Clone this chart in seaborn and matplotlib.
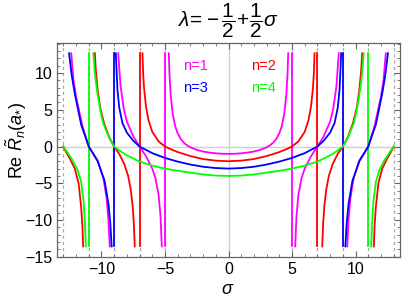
import matplotlib
matplotlib.use("Agg")
import matplotlib.pyplot as plt
import seaborn as sns
import pandas as pd
from matplotlib.ticker import MultipleLocator

# ---- data (right half, sigma >= 0; curves are even in sigma) ----
ns = [1, 2, 3, 4]
colors = {1: "#ff00ff", 2: "#ff0000", 3: "#0000ff", 4: "#00ff00"}
legend_labels = ["n=1", "n=2", "n=3", "n=4"]
poles = [5, 7, 9, 11]           # pole where each curve's central branch ends (joined vertically)
grid_sigma = [5, 7, 9, 11, 13]  # dashed grid lines (mirrored)

mag_center_s = [0, 0.5, 1, 1.5, 2, 2.5, 3, 3.25, 3.5, 3.75, 4, 4.2, 4.4, 4.55, 4.65, 4.7]
mag_center_v = [-1.0, -0.98, -0.92, -0.82, -0.68, -0.45, -0.1, 0.15, 0.5, 1.0, 1.8, 2.8, 4.6, 7.0, 10.0, 12.7]
mag_b_s = [5.25, 5.35, 5.5, 5.75, 6.0, 6.5, 7.0, 7.5, 8.0, 8.25, 8.5, 8.68]
mag_b_v = [-13.6, -9.5, -6.6, -4.3, -3.0, -1.3, 0.0, 1.4, 3.4, 5.2, 8.3, 12.7]
mag_c_s = [9.35, 9.45, 9.6, 9.85, 10.3, 11.0, 11.5, 12.0, 12.2, 12.38]
mag_c_v = [-13.6, -10.0, -7.0, -4.3, -1.9, 0.0, 2.8, 6.8, 9.0, 12.7]

red_center_s = [0, 1, 2, 3, 4, 4.5, 5, 5.5, 6.0, 6.3, 6.5, 6.65, 6.72, 6.77]
red_center_v = [-2.0, -1.92, -1.7, -1.3, -0.75, -0.4, 0.0, 0.7, 2.0, 3.6, 5.5, 8.0, 10.0, 12.7]
red_b_s = [7.38, 7.45, 7.55, 7.7, 7.9, 8.2, 8.6, 9.0, 9.4, 9.8, 10.1, 10.3, 10.45, 10.52]
red_b_v = [-13.6, -10.5, -8.0, -5.8, -4.0, -2.4, -1.0, 0.0, 1.3, 3.2, 5.3, 7.7, 10.5, 12.7]
red_c_s = [11.44, 11.5, 11.6, 11.8, 12.1, 12.5, 12.8, 13.0]
red_c_v = [-13.6, -10.8, -8.2, -5.0, -3.0, -1.6, -0.7, 0.0]

blue_center_s = [0, 1, 2, 3, 4, 5, 6, 7, 7.5, 8, 8.35, 8.6, 8.74, 8.87]
blue_center_v = [-3.0, -2.93, -2.75, -2.45, -2.05, -1.55, -0.9, 0.0, 0.8, 1.9, 3.2, 5.3, 7.7, 12.7]
blue_c_s = [9.2, 9.3, 9.45, 9.75, 10.3, 11.0, 11.6, 12.1, 12.35, 12.55]
blue_c_v = [-13.6, -10.5, -7.8, -4.7, -2.0, 0.0, 3.0, 7.2, 9.8, 12.7]

green_center_s = [0, 1, 2, 3, 4, 5, 6, 7, 8, 8.5, 9, 9.4, 9.87, 10.1, 10.36, 10.52, 10.64]
green_center_v = [-4.0, -3.95, -3.8, -3.55, -3.3, -3.0, -2.6, -2.05, -1.2, -0.65, 0.0, 1.2, 3.2, 5.0, 7.7, 10.0, 12.7]
green_c_s = [11.23, 11.3, 11.4, 11.6, 11.9, 12.3, 12.7, 13.0]
green_c_v = [-13.6, -10.5, -7.6, -4.8, -3.1, -1.8, -0.75, 0.0]

y_clip_low, y_clip_high = -13.6, 12.7

xticks = [-10, -5, 0, 5, 10]
yticks = [-15, -10, -5, 0, 5, 10]

# ---- build long table ----
branches = {
    1: [(mag_center_s, mag_center_v, True), (mag_b_s, mag_b_v, False), (mag_c_s, mag_c_v, False)],
    2: [(red_center_s, red_center_v, True), (red_b_s, red_b_v, False), (red_c_s, red_c_v, False)],
    3: [(blue_center_s, blue_center_v, True), (blue_c_s, blue_c_v, False)],
    4: [(green_center_s, green_center_v, True), (green_c_s, green_c_v, False)],
}
rows = []
for n, blist in branches.items():
    for k, (s, v, center) in enumerate(blist):
        if center:
            ss = [-x for x in reversed(s[1:])] + list(s)
            vv = list(reversed(v[1:])) + list(v)
            for a, b in zip(ss, vv):
                rows.append((a, b, n, f"{n}_{k}"))
        else:
            for a, b in zip(s, v):
                rows.append((a, b, n, f"{n}_{k}R"))
            for a, b in zip(s, v):
                rows.append((-a, b, n, f"{n}_{k}L"))
df = pd.DataFrame(rows, columns=["sigma", "value", "n", "branch"])

# ---- figure ----
plt.rcParams["font.family"] = ["Liberation Sans", "DejaVu Sans"]
plt.rcParams["mathtext.fontset"] = "custom"
plt.rcParams["mathtext.rm"] = "Liberation Sans"
plt.rcParams["mathtext.it"] = "Liberation Sans:italic"

fig = plt.figure(figsize=(4.05, 3.02), dpi=100)
ax = fig.add_axes([57 / 405, 1 - 256.7 / 302, (400 - 57) / 405, (256.7 - 43) / 302])

# grid
for g in grid_sigma:
    for sgn in (-1, 1):
        ax.axvline(sgn * g, color="#a8a8a8", lw=0.9, ls=(0, (2.5, 2.5)), zorder=0)
ax.axvline(0, color="#d0d0d0", lw=1.0, zorder=0)
ax.axhline(0, color="#d0d0d0", lw=1.0, zorder=0)

# vertical joins at the poles of the central branches
for n, p in zip(ns, poles):
    for sgn in (-1, 1):
        ax.plot([sgn * p, sgn * p], [y_clip_low, y_clip_high], color=colors[n], lw=1.3, zorder=2)

sns.lineplot(data=df, x="sigma", y="value", hue="n", units="branch", estimator=None,
             sort=False, palette=colors, legend=False, lw=1.3, ax=ax, zorder=3)

ax.set_xlim(-13.5, 13.5)
ax.set_ylim(-15, 14.1)
ax.set_xticks(xticks)
ax.set_yticks(yticks)
ax.set_xticklabels([f"{t}".replace("-", "\u2212") for t in xticks])
ax.set_yticklabels([f"{t}".replace("-", "\u2212") for t in yticks])
ax.xaxis.set_minor_locator(MultipleLocator(1))
ax.yaxis.set_minor_locator(MultipleLocator(1))
ax.tick_params(which="both", direction="in", top=True, right=True, colors="#666666",
               labelcolor="black", labelsize=11.5)
ax.tick_params(which="major", length=4, width=0.8)
ax.tick_params(which="minor", length=2, width=0.6)
for sp in ax.spines.values():
    sp.set_color("#666666")
    sp.set_linewidth(0.9)
ax.set_xlabel("")
ax.set_ylabel("")

# legend-like labels
leg_pos = [(-3.6, 10.9), (1.8, 10.9), (-3.6, 8.0), (1.8, 8.0)]
for n, lab, (x, y) in zip(ns, legend_labels, leg_pos):
    ax.text(x, y, lab, color=colors[n], fontsize=10.5, ha="left", va="center")

fig.text(228 / 405, 1 - 21 / 302, r"$\lambda\!=\!-\dfrac{1}{2}\!+\!\dfrac{1}{2}\sigma$",
         ha="center", va="center", fontsize=15)
fig.text(228 / 405, 1 - 290 / 302, r"$\sigma$", ha="center", va="center", fontsize=13)
fig.text(16 / 405, 1 - 140 / 302, r"Re $\tilde{R}_n(a_{*})$", ha="center", va="center",
         rotation=90, fontsize=13)

fig.savefig("out.png", dpi=100)
